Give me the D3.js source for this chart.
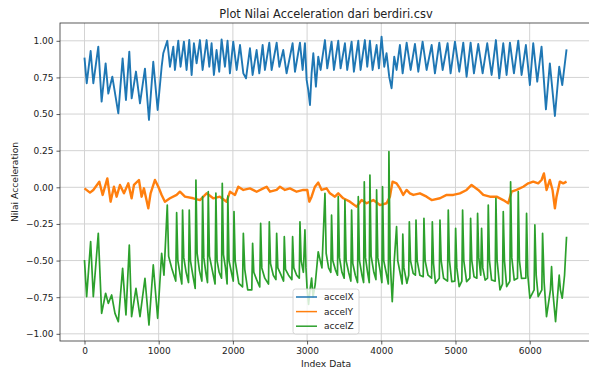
<!DOCTYPE html>
<html><head><meta charset="utf-8">
<script src="https://cdn.jsdelivr.net/npm/d3@7"></script>
<style>body{margin:0;background:#fff}svg{display:block}text{font-family:"DejaVu Sans",sans-serif;fill:#222}</style>
</head><body><svg id="c" width="589" height="373"></svg>
<script>
const title = "Plot Nilai Acceleration dari berdiri.csv";
const xLabel = "Index Data";
const yLabel = "Nilai Acceleration";
const seriesNames = ["accelX", "accelY", "accelZ"];
const xTicks = [0, 1000, 2000, 3000, 4000, 5000, 6000];
const yTicks = [-1.0, -0.75, -0.5, -0.25, 0.0, 0.25, 0.5, 0.75, 1.0];

const accelXIdx = [0,30,83,119,186,231,285,321,375,456,514,559,604,636,694,748,815,869,927,986,1040,1062,1116,1152,1197,1219,1264,1295,1340,1376,1412,1444,1475,1511,1556,1592,1646,1682,1713,1744,1780,1816,1848,1893,1928,1960,2005,2051,2096,2141,2177,2230,2266,2320,2356,2401,2432,2491,2522,2590,2626,2679,2724,2805,2837,2904,2940,2971,2994,3016,3039,3061,3084,3119,3151,3182,3241,3272,3330,3362,3420,3452,3510,3541,3600,3631,3690,3721,3779,3811,3847,3883,3937,3968,4004,4040,4071,4107,4139,4175,4206,4251,4288,4342,4396,4454,4499,4557,4611,4679,4723,4782,4827,4894,4934,4993,5051,5105,5150,5204,5249,5307,5366,5428,5487,5545,5590,5644,5689,5734,5788,5846,5891,5949,6003,6048,6102,6160,6219,6272,6340,6398,6439,6497];
const accelXVal = [0.885,0.71,0.93,0.71,0.96,0.585,0.846,0.64,0.755,0.505,0.88,0.596,0.926,0.607,0.79,0.573,0.81,0.46,0.857,0.528,0.823,0.915,1.0,0.823,0.96,0.801,1.0,0.823,0.994,0.801,1.005,0.767,0.983,0.846,1.005,0.801,1.005,0.823,0.983,0.767,0.937,0.789,1.01,0.823,1.0,0.778,0.994,0.801,0.971,0.778,0.744,0.949,0.767,0.937,0.778,0.971,0.801,0.987,0.801,0.987,0.823,0.937,0.778,0.983,0.789,0.987,0.801,0.983,0.733,0.664,0.562,0.778,0.915,0.687,0.892,0.801,1.005,0.812,0.994,0.801,1.0,0.812,0.983,0.801,0.994,0.789,1.0,0.801,1.005,0.823,1.0,0.801,0.971,0.812,1.028,0.823,0.915,0.755,0.676,0.892,0.801,0.971,0.778,0.987,0.801,0.978,0.789,0.994,0.801,0.971,0.778,0.987,0.801,0.983,0.778,0.994,0.789,0.987,0.755,0.987,0.778,0.978,0.778,0.983,0.767,1.005,0.744,0.983,0.767,0.987,0.778,1.001,0.767,0.971,0.698,0.983,0.721,0.96,0.532,0.846,0.487,0.823,0.698,0.942];

const accelYIdx = [0,74,119,200,245,308,352,397,433,478,532,590,635,667,734,770,801,860,891,950,995,1040,1084,1152,1242,1286,1354,1466,1556,1646,1735,1825,1915,1961,2028,2073,2141,2230,2320,2410,2455,2500,2590,2635,2702,2769,2859,2949,3003,3030,3061,3106,3151,3196,3263,3308,3375,3420,3488,3577,3667,3735,3802,3892,3982,4071,4116,4152,4206,4251,4296,4341,4386,4432,4521,4611,4679,4791,4881,4970,5060,5150,5217,5307,5375,5464,5554,5644,5711,5756,5824,5913,5981,6048,6115,6160,6192,6228,6272,6308,6340,6362,6407,6452,6497];
const accelYVal = [-0.007,-0.036,-0.018,0.038,-0.052,0.061,-0.098,0.004,-0.064,0.016,-0.041,0.027,-0.075,0.016,0.05,-0.064,-0.007,-0.143,-0.041,0.05,0.004,-0.052,-0.098,-0.075,-0.052,-0.03,-0.064,-0.075,-0.087,-0.041,-0.075,-0.064,-0.098,-0.03,-0.052,0.004,-0.018,-0.007,-0.03,-0.007,0.004,-0.03,-0.018,0.004,-0.018,-0.007,-0.03,-0.018,-0.018,-0.098,-0.064,0.004,0.032,-0.018,-0.007,-0.041,-0.064,-0.041,-0.075,-0.098,-0.132,-0.087,-0.109,-0.087,-0.121,-0.109,-0.064,0.039,0.027,-0.007,-0.052,-0.018,-0.041,-0.052,-0.041,-0.064,-0.087,-0.075,-0.052,-0.052,-0.041,-0.018,0.016,-0.018,-0.052,-0.064,-0.064,-0.087,-0.109,-0.03,-0.018,0.004,0.027,0.039,0.027,0.05,0.095,-0.018,0.05,-0.018,-0.143,-0.064,0.039,0.027,0.039];

const accelZIdx = [0,29,83,119,186,231,285,321,366,411,456,514,559,604,635,694,748,815,869,927,986,1040,1071,
1116,1134,1180,1230,1242,1258,1290,1312,1322,1338,1370,1402,1412,1428,1460,1492,1502,1518,1550,1582,1592,1608,1635,1658,1668,1684,1720,1760,1771,1787,1815,1847,1857,1873,1900,1922,1932,1948,1980,2005,
2015,2031,2080,2130,2141,2160,2200,2255,2266,2282,2320,2362,2374,2390,2430,2480,2491,2507,2545,2580,2590,2606,2650,2683,2693,2709,2750,2795,2805,2821,2860,2895,2904,2920,2950,2971,2985,3000,3020,3040,3061,3080,3110,3150,3200,
3241,3257,3290,3320,3330,3346,3380,3410,3420,3436,3470,3500,3510,3526,3560,3590,3600,3616,3650,3680,3690,3706,3740,3762,3771,3787,3815,3838,3847,3863,3900,3928,3937,3953,3985,4008,4017,4033,4065,4095,4103,4120,4148,4175,
4206,4222,4260,4282,4290,4305,4345,4370,4378,4394,4430,4460,4468,4484,4520,4565,4575,4591,4630,4678,4688,4704,4730,4782,4791,4807,4840,4893,4903,4919,4950,4992,5002,5018,5050,5086,5096,5112,5150,5194,5204,5220,5250,5288,5298,5314,5340,5352,5368,5400,5432,5442,5458,5487,5535,5545,5561,5600,5634,5644,5660,5690,5733,5743,5759,5792,5836,5846,5862,5890,5948,5958,5975,6003,6060,6070,6088,6115,6164,6174,6195,6227,6280,6295,6310,6349,6390,6398,6414,6439,6470,6497];
const accelZVal = [-0.496,-0.746,-0.371,-0.746,-0.314,-0.86,-0.723,-0.792,-0.735,-0.86,-0.917,-0.553,-0.871,-0.394,-0.883,-0.69,-0.883,-0.621,-0.94,-0.53,-0.894,-0.45,-0.6,
-0.121,-0.47,-0.56,-0.64,-0.173,-0.5,-0.6,-0.66,-0.155,-0.48,-0.58,-0.65,-0.155,-0.5,-0.6,-0.69,0.05,-0.45,-0.57,-0.64,-0.064,-0.48,-0.58,-0.65,-0.03,-0.47,-0.56,-0.66,-0.04,-0.5,-0.58,-0.62,0.027,-0.46,-0.55,-0.66,-0.06,-0.5,-0.58,-0.64,
-0.166,-0.5,-0.655,-0.68,-0.314,-0.56,-0.7,-0.7,-0.382,-0.58,-0.63,-0.68,-0.246,-0.55,-0.62,-0.66,-0.235,-0.52,-0.6,-0.63,-0.314,-0.55,-0.6,-0.64,-0.337,-0.56,-0.6,-0.63,-0.337,-0.55,-0.6,-0.62,-0.235,-0.5,-0.58,-0.29,-0.55,-0.69,-0.8,-0.7,-0.62,-0.75,-0.66,-0.44,-0.55,
-0.041,-0.45,-0.55,-0.58,-0.19,-0.5,-0.56,-0.6,-0.064,-0.48,-0.58,-0.62,-0.087,-0.5,-0.58,-0.64,-0.155,-0.52,-0.6,-0.65,-0.064,-0.5,-0.6,-0.65,0.038,-0.48,-0.58,-0.65,0.084,-0.47,-0.58,-0.63,-0.018,-0.48,-0.57,-0.65,0.004,-0.5,-0.58,-0.66,0.243,-0.5,-0.78,-0.5,
-0.269,-0.5,-0.6,-0.66,-0.32,-0.55,-0.655,-0.6,-0.235,-0.5,-0.587,-0.6,-0.223,-0.5,-0.6,-0.61,-0.212,-0.5,-0.6,-0.62,-0.235,-0.52,-0.655,-0.62,-0.223,-0.5,-0.621,-0.64,-0.155,-0.5,-0.644,-0.64,-0.28,-0.55,-0.678,-0.64,-0.155,-0.5,-0.644,-0.62,-0.212,-0.5,-0.61,-0.62,-0.178,-0.48,-0.6,-0.28,-0.55,-0.633,-0.62,-0.121,-0.5,-0.633,-0.64,-0.075,-0.5,-0.7,-0.66,-0.166,-0.5,-0.678,-0.64,0.038,-0.48,-0.633,-0.62,-0.03,-0.5,-0.621,-0.62,-0.178,-0.6,-0.757,-0.7,-0.257,-0.6,-0.746,-0.7,-0.314,-0.65,-0.883,-0.7,-0.542,-0.7,-0.917,-0.65,-0.6,-0.7,-0.757,-0.6,-0.337];

const colors = ["#1f77b4", "#ff7f0e", "#2ca02c"];
const widths = [1.9, 2.4, 1.7];

const svg = d3.select("#c");
const M = {left: 60, right: 592, top: 23, bottom: 341};
const x = d3.scaleLinear().domain([-330, 6840]).range([M.left, M.right]);
const y = d3.scaleLinear().domain([-1.049, 1.1215]).range([M.bottom, M.top]);
const FS = 9;

svg.append("rect").attr("width", 589).attr("height", 373).attr("fill", "#fff");

// grid
const g = svg.append("g");
g.selectAll(".gx").data(xTicks).join("line")
  .attr("x1", d => x(d)).attr("x2", d => x(d)).attr("y1", M.top).attr("y2", M.bottom)
  .attr("stroke", "#d3d3d3").attr("stroke-width", 1);
g.selectAll(".gy").data(yTicks).join("line")
  .attr("x1", M.left).attr("x2", M.right).attr("y1", d => y(d)).attr("y2", d => y(d))
  .attr("stroke", "#d3d3d3").attr("stroke-width", 1);

// series
const series = [
  {name: seriesNames[0], idx: accelXIdx, val: accelXVal},
  {name: seriesNames[1], idx: accelYIdx, val: accelYVal},
  {name: seriesNames[2], idx: accelZIdx, val: accelZVal}
];
const line = d3.line().x(d => x(d[0])).y(d => y(d[1]));
series.forEach((s, i) => {
  const pts = s.idx.map((v, k) => [v, s.val[k]]);
  svg.append("path").datum(pts).attr("d", line)
    .attr("fill", "none").attr("stroke", colors[i]).attr("stroke-width", widths[i])
    .attr("stroke-linejoin", "round");
});

// axes
const xAxis = d3.axisBottom(x).tickValues(xTicks).tickFormat(d3.format("d")).tickSize(3.5).tickPadding(3);
const yAxis = d3.axisLeft(y).tickValues(yTicks).tickFormat(d3.format(".2f")).tickSize(3.5).tickPadding(3);
const ax = svg.append("g").attr("transform", `translate(0,${M.bottom})`).call(xAxis);
const ay = svg.append("g").attr("transform", `translate(${M.left},0)`).call(yAxis);
[ax, ay].forEach(a => {
  a.select(".domain").remove();
  a.selectAll("line").attr("stroke", "#333").attr("stroke-width", 0.8);
  a.selectAll("text").attr("font-family", "DejaVu Sans").attr("font-size", FS).attr("fill", "#222");
});
ay.selectAll("text").text(d => d3.format(".2f")(d).replace("-", "\u2212"));

// spines
svg.append("rect").attr("x", M.left).attr("y", M.top).attr("width", M.right - M.left).attr("height", M.bottom - M.top)
  .attr("fill", "none").attr("stroke", "#333").attr("stroke-width", 0.8);

// labels
svg.append("text").attr("x", (M.left + M.right) / 2).attr("y", 18).attr("text-anchor", "middle")
  .attr("font-size", 11.4).text(title);
svg.append("text").attr("x", (M.left + M.right) / 2).attr("y", 367).attr("text-anchor", "middle")
  .attr("font-size", 9.2).text(xLabel);
svg.append("text").attr("transform", `translate(17.5,${(M.top + M.bottom) / 2}) rotate(-90)`)
  .attr("text-anchor", "middle").attr("font-size", 9.2).text(yLabel);

// legend
const lg = svg.append("g").attr("transform", "translate(293,289)");
lg.append("rect").attr("width", 66).attr("height", 45).attr("rx", 2.5)
  .attr("fill", "#fff").attr("fill-opacity", 0.8).attr("stroke", "#cccccc").attr("stroke-width", 0.8);
seriesNames.forEach((n, i) => {
  const yy = 8 + i * 14.6;
  lg.append("line").attr("x1", 3).attr("x2", 24).attr("y1", yy).attr("y2", yy)
    .attr("stroke", colors[i]).attr("stroke-width", 1.5);
  lg.append("text").attr("x", 31).attr("y", yy + 3.2).attr("font-size", FS).text(n);
});
</script></body></html>
